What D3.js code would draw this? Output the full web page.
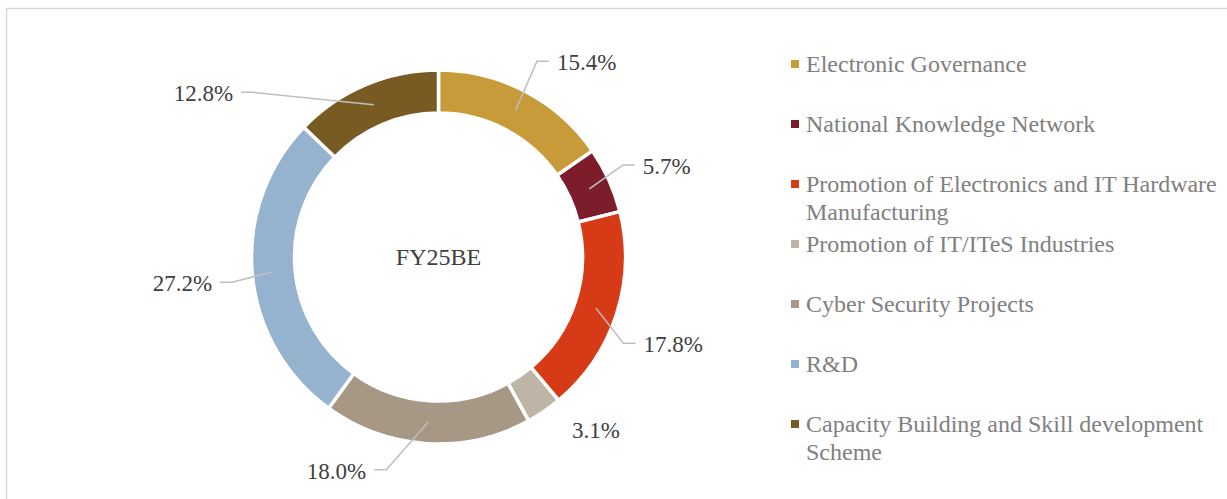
<!DOCTYPE html>
<html>
<head>
<meta charset="utf-8">
<script src="https://cdn.jsdelivr.net/npm/d3@7/dist/d3.min.js"></script>
<style>
  html, body { margin: 0; padding: 0; background: #fff; }
  svg { display: block; font-family: "Liberation Serif", "Times New Roman", serif; }
</style>
</head>
<body>
<svg id="chart" width="1227" height="499"></svg>
<script>
// data
var categories = ["Electronic Governance", "National Knowledge Network",
  "Promotion of Electronics and IT Hardware Manufacturing", "Promotion of IT/ITeS Industries",
  "Cyber Security Projects", "R&D", "Capacity Building and Skill development Scheme"];
var shares = [15.4, 5.7, 17.8, 3.1, 18.0, 27.2, 12.8];
var colors = ["#C89B3A", "#7B1D2B", "#D63A17", "#BFB5A7", "#A69885", "#95B3CE", "#785B22"];
var centerLabel = "FY25BE";

// where Excel left each data label: [angle in degrees, radius], and whether it has a leader line
var labelSpots = [[26.7, 219], [63.5, 206], [115, 204], [137.7, 234], [193.8, 219], [263, 208], [311.6, 248]];
var hasLeader = [true, true, true, false, true, true, true];

var svg = d3.select("#chart");
var cx = 438.5, cy = 257;
var outerR = 187, innerR = 144;

//chart area border
svg.append("rect")
  .attr("x", 6.5).attr("y", 8.5)
  .attr("width", 1240).attr("height", 520)
  .attr("fill", "#fff")
  .attr("stroke", "#D9D9D9")
  .attr("stroke-width", 1.5);

var pie = d3.pie().sort(null).value(function(d) { return d; });
var arcs = pie(shares);

var arc = d3.arc().innerRadius(innerR).outerRadius(outerR);

var g = svg.append("g").attr("transform", "translate(" + cx + "," + cy + ")");

g.selectAll("path.slice")
  .data(arcs)
  .enter()
  .append("path")
  .attr("class", "slice")
  .attr("d", arc)
  .attr("fill", function(d, i) { return colors[i]; })
  .attr("stroke", "#fff")
  .attr("stroke-width", 3.5);

g.append("text")
  .attr("x", 0).attr("y", 8)
  .attr("text-anchor", "middle")
  .attr("font-size", 24)
  .attr("fill", "#404040")
  .text(centerLabel);

//data labels with leader lines
var midR = (innerR + outerR) / 2;
function polar(angleDeg, r) {
  var a = angleDeg * Math.PI / 180;
  return [Math.sin(a) * r, -Math.cos(a) * r];
}

arcs.forEach(function(d, i) {
  var mid = (d.startAngle + d.endAngle) / 2 * 180 / Math.PI;
  var spot = polar(labelSpots[i][0], labelSpots[i][1]);
  var label = d3.format(".1f")(shares[i]) + "%";

  if (!hasLeader[i]) {
    g.append("text")
      .attr("x", spot[0]).attr("y", spot[1] + 8)
      .attr("text-anchor", "middle")
      .attr("font-size", 23)
      .attr("fill", "#404040")
      .text(label);
    return;
  }

  var side = spot[0] >= 0 ? 1 : -1;
  var start = polar(mid, midR);
  var end = [spot[0] + side * 12, spot[1]];

  g.append("path")
    .attr("d", d3.line()([start, spot, end]))
    .attr("fill", "none")
    .attr("stroke", "#BFBFBF")
    .attr("stroke-width", 1.5);

  g.append("text")
    .attr("x", end[0] + side * 8).attr("y", end[1] + 9)
    .attr("text-anchor", side > 0 ? "start" : "end")
    .attr("font-size", 23)
    .attr("fill", "#404040")
    .text(label);
});

//legend
var legX = 791, legY = 72, legStep = 60, lineH = 28, wrapW = 416;

var legend = svg.append("g").attr("class", "legend");

categories.forEach(function(name, i) {
  var y = legY + i * legStep;
  legend.append("rect")
    .attr("x", legX).attr("y", y - 12)
    .attr("width", 8).attr("height", 8)
    .attr("fill", colors[i]);

  var t = legend.append("text")
    .attr("x", legX + 15).attr("y", y)
    .attr("font-size", 24)
    .attr("fill", "#808080");

  var words = name.split(" ");
  var line = [];
  var tspan = t.append("tspan").attr("x", legX + 15).attr("y", y);
  var lineNo = 0;
  words.forEach(function(w) {
    line.push(w);
    tspan.text(line.join(" "));
    if (tspan.node().getComputedTextLength() > wrapW && line.length > 1) {
      line.pop();
      tspan.text(line.join(" "));
      line = [w];
      lineNo++;
      tspan = t.append("tspan").attr("x", legX + 15).attr("y", y + lineNo * lineH).text(w);
    }
  });
});
</script>
</body>
</html>
